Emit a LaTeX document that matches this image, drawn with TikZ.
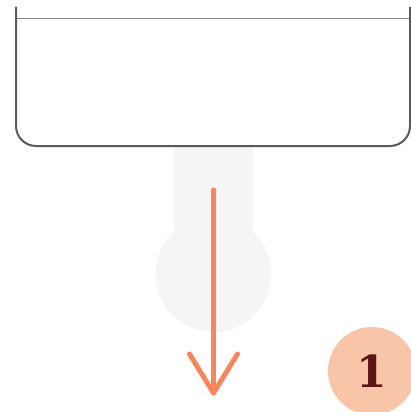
\documentclass[tikz,border=0pt]{standalone}
\usepackage{tikz}
\usepackage{fontspec}
\usetikzlibrary{calc}
\newfontfamily\badgefont{DejaVu Serif}
\definecolor{boxgrey}{HTML}{5A5A5A}
\definecolor{ruleline}{HTML}{888888}
\definecolor{ghost}{HTML}{F5F5F5}
\definecolor{arroworange}{HTML}{F4875E}
\definecolor{badgepeach}{HTML}{F8C5A8}
\definecolor{badgetext}{HTML}{5A1414}
\newcommand{\stem}[3] % x, top y, bottom y of the light stem
{
	% bar
	\fill[ghost] (#1-39.5,#2) rectangle (#1+39.5,#3);
	% bulb
	\fill[ghost] (#1,#3+44) circle (58);
}

\begin{document}
\begin{tikzpicture}[x=1pt,y=-1pt]
	% canvas 411 x 412
	\useasboundingbox (0,0) rectangle (411,412);
	
	% light stem below the box
	\stem{213.5}{146}{230};
	
	% open box: sides and bottom
	\draw[boxgrey, line width=2pt, rounded corners=20pt] (16,7) -- (16,146) -- (410,146) -- (410,7);
	\draw[ruleline, line width=1.5pt] (17,18.5) -- (409,18.5);
	
	% arrow down
	\coordinate (arrowtop) at (213.5,190);
	\coordinate (arrowtip) at (213.5,393);
	\draw[arroworange, line width=5pt, line cap=round, line join=round] (arrowtop) -- (arrowtip);
	\draw[arroworange, line width=5pt, line cap=round, line join=round] ($(arrowtip)+(-24,-39)$) -- (arrowtip) -- ($(arrowtip)+(24,-39)$);
	
	% step badge
	\node[circle, fill=badgepeach, minimum size=88pt, inner sep=0pt, text=badgetext, font=\badgefont\fontsize{44}{44}\selectfont\bfseries] (badge) at (372,371) {1};
\end{tikzpicture}
\end{document}
